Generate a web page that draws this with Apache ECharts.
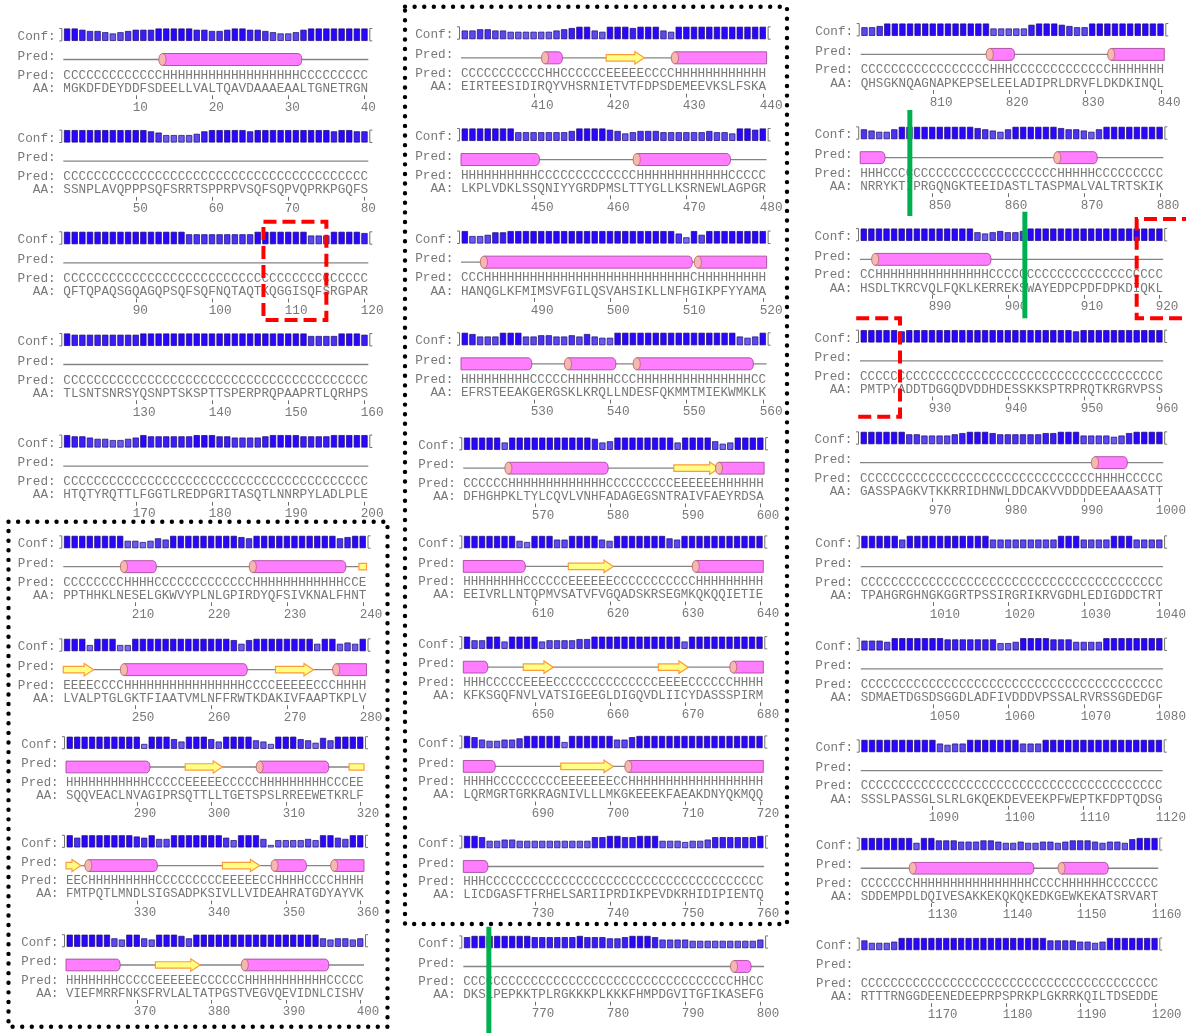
<!DOCTYPE html>
<html>
<head>
<meta charset="utf-8">
<title>PSIPRED secondary structure prediction</title>
<script src="https://cdn.jsdelivr.net/npm/echarts@6/dist/echarts.min.js"></script>
<style>
  html, body { margin: 0; padding: 0; background: #ffffff; }
  #chart { width: 1186px; height: 1033px; }
</style>
</head>
<body>
<div id="chart"></div>
<script>
// ---- Sequence data: 30 rows of 40 residues (spaces only group the letters by ten) ----
const firstResidue = [1, 41, 81, 121, 161, 201, 241, 281, 321, 361,
  401, 441, 481, 521, 561, 601, 641, 681, 721, 761,
  801, 841, 881, 921, 961, 1001, 1041, 1081, 1121, 1161];

const aminoAcids = [
  'MGKDFDEYDD FSDEELLVAL TQAVDAAAEA ALTGNETRGN',
  'SSNPLAVQPP PSQFSRRTSP PRPVSQFSQP VQPRKPGQFS',
  'QFTQPAQSGQ AGQPSQFSQF NQTAQTKQGG ISQFSRGPAR',
  'TLSNTSNRSY QSNPTSKSPT TSPERPRQPA APRTLQRHPS',
  'HTQTYRQTTL FGGTLREDPG RITASQTLNN RPYLADLPLE',
  'PPTHHKLNES ELGKWVYPLN LGPIRDYQFS IVKNALFHNT',
  'LVALPTGLGK TFIAATVMLN FFRWTKDAKI VFAAPTKPLV',
  'SQQVEACLNV AGIPRSQTTL LTGETSPSLR REEWETKRLF',
  'FMTPQTLMND LSIGSADPKS IVLLVIDEAH RATGDYAYVK',
  'VIEFMRRFNK SFRVLALTAT PGSTVEGVQE VIDNLCISHV',
  'EIRTEESIDI RQYVHSRNIE TVTFDPSDEM EEVKSLFSKA',
  'LKPLVDKLSS QNIYYGRDPM SLTTYGLLKS RNEWLAGPGR',
  'HANQGLKFMI MSVFGILQSV AHSIKLLNFH GIKPFYYAMA',
  'EFRSTEEAKG ERGSKLKRQL LNDESFQKMM TMIEKWMKLK',
  'DFHGHPKLTY LCQVLVNHFA DAGEGSNTRA IVFAEYRDSA',
  'EEIVRLLNTQ PMVSATVFVG QADSKRSEGM KQKQQIETIE',
  'KFKSGQFNVL VATSIGEEGL DIGQVDLIIC YDASSSPIRM',
  'LQRMGRTGRK RAGNIVLLLM KGKEEEKFAE AKDNYQKMQQ',
  'LICDGASFTF RHELSARIIP RDIKPEVDKR HIDIPIENTQ',
  'DKSLPEPKKT PLRGKKKPLK KKFHMPDGVI TGFIKASEFG',
  'QHSGKNQAGN APKEPSELEE LADIPRLDRV FLDKDKINQL',
  'NRRYKTIPRG QNGKTEEIDA STLTASPMAL VALTRTSKIK',
  'HSDLTKRCVQ LFQKLKERRE KSWAYEDPCP DFDPKDIQKL',
  'PMTPYADDTD GGQDVDDHDE SSKKSPTRPR QTKRGRVPSS',
  'GASSPAGKVT KKRRIDHNWL DDCAKVVDDD DEEAAASATT',
  'TPAHGRGHNG KGGRTPSSIR GRIKRVGDHL EDIGDDCTRT',
  'SDMAETDGSD SGGDLADFIV DDDVPSSALR VRSSGDEDGF',
  'SSSLPASSGL SLRLGKQEKD EVEEKPFWEP TKFDPTQDSG',
  'SDDEMPDLDQ IVESAKKEKQ KQKEDKGEWK EKATSRVART',
  'RTTTRNGGDE ENEDEEPRPS PRKPLGKRRK QILTDSEDDE'
].map(s => s.replace(/ /g, ''));

// H = helix, E = strand, C = coil
const predictedSS = [
  'CCCCCCCCCC CCCHHHHHHH HHHHHHHHHH HCCCCCCCCC',
  'CCCCCCCCCC CCCCCCCCCC CCCCCCCCCC CCCCCCCCCC',
  'CCCCCCCCCC CCCCCCCCCC CCCCCCCCCC CCCCCCCCCC',
  'CCCCCCCCCC CCCCCCCCCC CCCCCCCCCC CCCCCCCCCC',
  'CCCCCCCCCC CCCCCCCCCC CCCCCCCCCC CCCCCCCCCC',
  'CCCCCCCCHH HHCCCCCCCC CCCCCHHHHH HHHHHHHCCE',
  'EEEECCCCHH HHHHHHHHHH HHHHCCCCEE EEECCCHHHH',
  'HHHHHHHHHH HCCCCCEEEE ECCCCCHHHH HHHHHCCCEE',
  'EECHHHHHHH HHCCCCCCCC CEEEEECCHH HHCCCCHHHH',
  'HHHHHHHCCC CCEEEEEECC CCCCHHHHHH HHHHHCCCCC',
  'CCCCCCCCCC CHHCCCCCCE EEEECCCCHH HHHHHHHHHH',
  'HHHHHHHHHH CCCCCCCCCC CCCHHHHHHH HHHHHCCCCC',
  'CCCHHHHHHH HHHHHHHHHH HHHHHHHHHH CHHHHHHHHH',
  'HHHHHHHHHC CCCCHHHHHH CCCHHHHHHH HHHHHHHHCC',
  'CCCCCCHHHH HHHHHHHHHC CCCCCCCCEE EEEEHHHHHH',
  'HHHHHHHHCC CCCCEEEEEE CCCCCCCCCC CHHHHHHHHH',
  'HHHCCCCCEE EECCCCCCCC CCCCCCEEEE CCCCCCHHHH',
  'HHHHCCCCCC CCCEEEEEEE CCHHHHHHHH HHHHHHHHHH',
  'HHHCCCCCCC CCCCCCCCCC CCCCCCCCCC CCCCCCCCCC',
  'CCCCCCCCCC CCCCCCCCCC CCCCCCCCCC CCCCCCHHCC',
  'CCCCCCCCCC CCCCCCCHHH CCCCCCCCCC CCCHHHHHHH',
  'HHHCCCCCCC CCCCCCCCCC CCCCCCHHHH HCCCCCCCCC',
  'CCHHHHHHHH HHHHHHHCCC CCCCCCCCCC CCCCCCCCCC',
  'CCCCCCCCCC CCCCCCCCCC CCCCCCCCCC CCCCCCCCCC',
  'CCCCCCCCCC CCCCCCCCCC CCCCCCCCCC CHHHHCCCCC',
  'CCCCCCCCCC CCCCCCCCCC CCCCCCCCCC CCCCCCCCCC',
  'CCCCCCCCCC CCCCCCCCCC CCCCCCCCCC CCCCCCCCCC',
  'CCCCCCCCCC CCCCCCCCCC CCCCCCCCCC CCCCCCCCCC',
  'CCCCCCCHHH HHHHHHHHHH HHHCCCCHHH HHHCCCCCCC',
  'CCCCCCCCCC CCCCCCCCCC CCCCCCCCCC CCCCCCCCCC'
].map(s => s.replace(/ /g, ''));

// Per-residue confidence, 0 (low) to 9 (high)
const confidence = [
  '9987765678 8899999887 7899887655 6899999999',
  '9999999999 9875555689 9999899999 9999989988',
  '9999999999 9999997777 7777799999 9966699998',
  '9888888888 9999999999 9999999999 9977779998',
  '9887665567 9888888999 8877778999 9888899999',
  '9999999955 4576999999 9998799999 9999997899',
  '9994999449 9999999999 9985899999 9995995659',
  '9999999999 3999759997 5999965399 9764869999',
  '9799999998 7966999999 9759996155 5565997699',
  '9999996599 6599986999 9999999999 9999656656',
  '6677665555 5567899659 9989996599 9999999999',
  '9999999666 6666799998 7567776666 6676659989',
  '9556889999 9999999999 9999999974 9699999999',
  '9866699966 7766768655 9999999999 9999996569',
  '9999959999 9999999856 9999999959 9996459999',
  '9999999549 9966999965 9999999769 9999999999',
  '9669959999 5666677999 9999999995 9999999999',
  '9865566799 9994999999 6689999999 9999999999',
  '9985566555 5555555889 9889995554 5568888889',
  '8999999998 8888898887 7899986666 5555555556',
  '6679999999 9999999555 5589998766 9999999999',
  '7655799999 9999987657 9999998776 5799999999',
  '9999999999 9999965676 6799999999 9999999999',
  '9999989999 9999999999 9999999989 9999999999',
  '9999997766 6678999877 7777889996 6665689999',
  '9999969999 9999999666 6666669996 6669996666',
  '7776999999 9888888855 6999988866 6699999999',
  '9999999999 6566999999 9666999999 9999999999',
  '9999999599 7776667765 5655665677 7656658999',
  '7555699999 9999999999 9999977776 6569999999'
].map(s => s.replace(/ /g, '').split('').map(Number));

// ---- Page layout of each 40-residue row: [first cell x, cell width, Conf row y] ----
const blockLayout = [
  [63.3, 7.625, 36.7], [63.3, 7.625, 138.3], [63.3, 7.625, 240], [63.3, 7.625, 341.7], [63.3, 7.625, 443.3],
  [63.3, 7.58, 544], [63.3, 7.58, 647], [66, 7.45, 744.7], [66, 7.45, 843.3], [66, 7.45, 942.7],
  [461, 7.64, 35], [461, 7.64, 136.7], [461, 7.64, 239.3], [461, 7.64, 341], [463.3, 7.52, 445.7],
  [463.3, 7.5, 544], [463.3, 7.5, 644.7], [463.3, 7.5, 744], [463.3, 7.52, 844], [463.3, 7.52, 944],
  [860.7, 7.59, 31.7], [860.2, 7.58, 135], [860, 7.58, 236.7], [860, 7.58, 338.3], [860, 7.58, 440],
  [860.7, 7.56, 544], [860.7, 7.56, 646.3], [860.7, 7.55, 748], [860.7, 7.44, 846], [860.7, 7.44, 946]
];

// vertical offsets inside a row, relative to the Conf label centre (at unit scale)
const BAR_TOP = 8.2, BAR_BOTTOM = 4.2;
const PRED_LABEL_Y = 19.6, CARTOON_Y = 22.8, PRED_TEXT_Y = 38.5, AA_TEXT_Y = 51.8;
const TICK_Y = 58.6, TICK_LEN = 3.8, NUMBER_Y = 70.8;

const TEXT_COLOR = '#787878';
const BAR_EDGE = '#1a0a70';
const barPalette = ['#9c92ee', '#968cee', '#8e82ee', '#8678ee', '#7a6cee',
  '#6c5cee', '#5c48f0', '#4a32f4', '#3a1cf8', '#2a06ff'];
const HELIX_FILL = '#ff7eff', HELIX_EDGE = '#a8489e';
const CAP_FILL = '#f6b6b2', CAP_EDGE = '#b86c6c';
const STRAND_FILL = '#ffff86', STRAND_EDGE = '#ff9a3a';
const MONO = '"Liberation Mono", "DejaVu Sans Mono", monospace';

function textEl(x, y, s, font) {
  return {
    type: 'text',
    style: {
      x, y, text: s, font, fill: TEXT_COLOR,
      align: 'left', verticalAlign: 'middle',
      textAlign: 'left', textVerticalAlign: 'middle'
    }
  };
}

// One custom item per row draws the labels, brackets, cartoon, sequence text and numbers
function rowRenderer(b) {
  return function (params, api) {
    const origin = api.coord([0, 0]);
    const cw = api.size([1, 0])[0];
    const k = cw / 7.625;
    const x0 = origin[0] - cw / 2;
    const cy = origin[1] - BAR_BOTTOM * k;
    const cell = i => x0 + i * cw;
    const font = (cw / 0.6).toFixed(2) + 'px ' + MONO;
    const lx = x0 - 6 * cw;
    const ss = predictedSS[b];
    const kids = [];

    kids.push(textEl(lx, cy, 'Conf:', font));
    kids.push(textEl(lx, cy + PRED_LABEL_Y * k, 'Pred:', font));

    // brackets around the confidence bars
    const top = cy - BAR_TOP * k, bot = cy + BAR_BOTTOM * k, xr = cell(40);
    const bracketStyle = { stroke: '#707070', lineWidth: 1, fill: null };
    kids.push({ type: 'polyline', shape: { points: [[x0 - 4, top], [x0 - 1.5, top], [x0 - 1.5, bot], [x0 - 4, bot]] }, style: bracketStyle });
    kids.push({ type: 'polyline', shape: { points: [[xr + 4, top], [xr + 1.5, top], [xr + 1.5, bot], [xr + 4, bot]] }, style: bracketStyle });

    // secondary structure cartoon
    const yc = cy + CARTOON_Y * k;
    if (b < predictedSS.length - 1) {
      kids.push({ type: 'line', shape: { x1: cell(0), y1: yc, x2: cell(40), y2: yc }, style: { stroke: '#848484', lineWidth: 1.3 } });
    }
    let i = 0;
    while (i < 40) {
      const t = ss[i];
      let j = i;
      while (j + 1 < 40 && ss[j + 1] === t) j++;
      if (t !== 'C') {
        const contL = i === 0 && b > 0 && predictedSS[b - 1][39] === t;
        const contR = j === 39 && b < predictedSS.length - 1 && predictedSS[b + 1][0] === t;
        const xa = cell(i), xb = cell(j + 1);
        if (t === 'H') {
          const h = 6 * k, rx = 3.6 * k, t0 = yc - h, b0 = yc + h;
          let d;
          if (contR) {
            d = `M${xa},${t0}L${xb},${t0}L${xb},${b0}L${xa},${b0}Z`;
          } else {
            const xe = xb - 1.5 * k;
            d = `M${xa},${t0}L${xe},${t0}C${xe + rx * 1.33},${t0} ${xe + rx * 1.33},${b0} ${xe},${b0}L${xa},${b0}Z`;
          }
          kids.push({ type: 'path', shape: { pathData: d }, style: { fill: HELIX_FILL, stroke: HELIX_EDGE, lineWidth: 0.9 } });
          if (!contL) {
            const c = `M${xa},${t0}C${xa + rx * 1.33},${t0} ${xa + rx * 1.33},${b0} ${xa},${b0}C${xa - rx * 1.33},${b0} ${xa - rx * 1.33},${t0} ${xa},${t0}Z`;
            kids.push({ type: 'path', shape: { pathData: c }, style: { fill: CAP_FILL, stroke: CAP_EDGE, lineWidth: 0.9 } });
          }
        } else {
          const bh = 3.3 * k, hh = 6.3 * k;
          const hl = Math.min(9.5 * k, (xb - xa) * 0.6);
          let pts;
          if (contR) {
            pts = [[xa, yc - bh], [xb, yc - bh], [xb, yc + bh], [xa, yc + bh]];
          } else {
            pts = [[xa, yc - bh], [xb - hl, yc - bh], [xb - hl, yc - hh], [xb, yc],
              [xb - hl, yc + hh], [xb - hl, yc + bh], [xa, yc + bh]];
          }
          kids.push({ type: 'polygon', shape: { points: pts }, style: { fill: STRAND_FILL, stroke: STRAND_EDGE, lineWidth: 1.2 } });
        }
      }
      i = j + 1;
    }

    kids.push(textEl(lx, cy + PRED_TEXT_Y * k, 'Pred: ' + ss, font));
    kids.push(textEl(lx, cy + AA_TEXT_Y * k, '  AA: ' + aminoAcids[b], font));

    // tick and residue number under every tenth residue
    for (let m = 1; m <= 4; m++) {
      const tickX = Math.round(api.coord([10 * m - 1, 0])[0]) + 0.5;
      kids.push({ type: 'line', shape: { x1: tickX, y1: cy + TICK_Y * k, x2: tickX, y2: cy + (TICK_Y + TICK_LEN) * k },
        style: { stroke: '#6a6a6a', lineWidth: 1 } });
      kids.push(textEl(tickX - 3.8 * k, cy + NUMBER_Y * k, String(firstResidue[b] + 10 * m - 1), font));
    }
    return { type: 'group', children: kids };
  };
}

const grids = [], xAxes = [], yAxes = [], series = [];
blockLayout.forEach(([x0, cw, cy], b) => {
  const k = cw / 7.625;
  const residues = aminoAcids[b].split('').map((_, i) => String(firstResidue[b] + i));
  grids.push({ left: x0, top: cy - BAR_TOP * k, width: 40 * cw, height: (BAR_TOP + BAR_BOTTOM) * k });
  xAxes.push({
    gridIndex: b, type: 'category', data: residues, position: 'bottom',
    axisLine: { show: false }, axisTick: { show: false },
    axisLabel: { show: false }, splitLine: { show: false }
  });
  yAxes.push({ gridIndex: b, type: 'value', min: 0, max: 10, show: false });
  series.push({
    type: 'bar', xAxisIndex: b, yAxisIndex: b, barWidth: '82%', silent: true,
    data: confidence[b].map(c => ({ value: c + 1, itemStyle: { color: barPalette[c] } })),
    itemStyle: { borderColor: BAR_EDGE, borderWidth: 0.7 }
  });
  series.push({
    type: 'custom', xAxisIndex: b, yAxisIndex: b, data: [[0, 0]], clip: false, silent: true,
    renderItem: rowRenderer(b)
  });
});

// ---- Annotations: dotted frames, red selections, green markers ----
const L = blockLayout;
const colX = (b, pos) => L[b][0] + pos * L[b][1];
const dotted = { fill: null, stroke: '#000000', lineWidth: 4.4, lineDash: [0.01, 9.6], lineCap: 'round' };
const redDash = { fill: null, stroke: '#ff0000', lineWidth: 4, lineDash: [13, 6] };
const green = { stroke: '#00b050', lineWidth: 5 };

const graphic = [
  { type: 'rect', z: 100, silent: true, shape: { x: 8.5, y: L[5][2] - 22.3, width: 379, height: L[9][2] + 84 - (L[5][2] - 22.3) }, style: dotted },
  { type: 'rect', z: 100, silent: true, shape: { x: 405, y: L[10][2] - 28.3, width: 382, height: L[18][2] + 80 - (L[10][2] - 28.3) }, style: dotted },
  { type: 'rect', z: 100, silent: true, shape: { x: colX(2, 26.25), y: L[2][2] - 18.3, width: colX(2, 34.5) - colX(2, 26.25), height: 98.3 }, style: redDash },
  { type: 'polyline', z: 100, silent: true, shape: { points: [[1195, L[22][2] - 17.7], [colX(22, 36.5), L[22][2] - 17.7], [colX(22, 36.5), L[22][2] + 81.6], [1195, L[22][2] + 81.6]] }, style: redDash },
  { type: 'polyline', z: 100, silent: true, shape: { points: [[colX(23, -0.5), L[23][2] - 20], [colX(23, 5.28), L[23][2] - 20], [colX(23, 5.28), L[23][2] + 78.4], [colX(23, -0.5), L[23][2] + 78.4]] }, style: redDash },
  { type: 'line', z: 100, silent: true, shape: { x1: colX(21, 6.55), y1: L[21][2] - 25, x2: colX(21, 6.55), y2: L[21][2] + 81 }, style: green },
  { type: 'line', z: 100, silent: true, shape: { x1: colX(22, 21.75), y1: L[22][2] - 25, x2: colX(22, 21.75), y2: L[22][2] + 81.6 }, style: green },
  { type: 'line', z: 100, silent: true, shape: { x1: colX(19, 3.4), y1: L[19][2] - 17.3, x2: colX(19, 3.4), y2: 1040 }, style: green }
];

const chart = echarts.init(document.getElementById('chart'), null, { renderer: 'canvas' });
chart.setOption({
  backgroundColor: '#ffffff',
  animation: false,
  grid: grids, xAxis: xAxes, yAxis: yAxes, series,
  graphic
});
</script>
</body>
</html>
